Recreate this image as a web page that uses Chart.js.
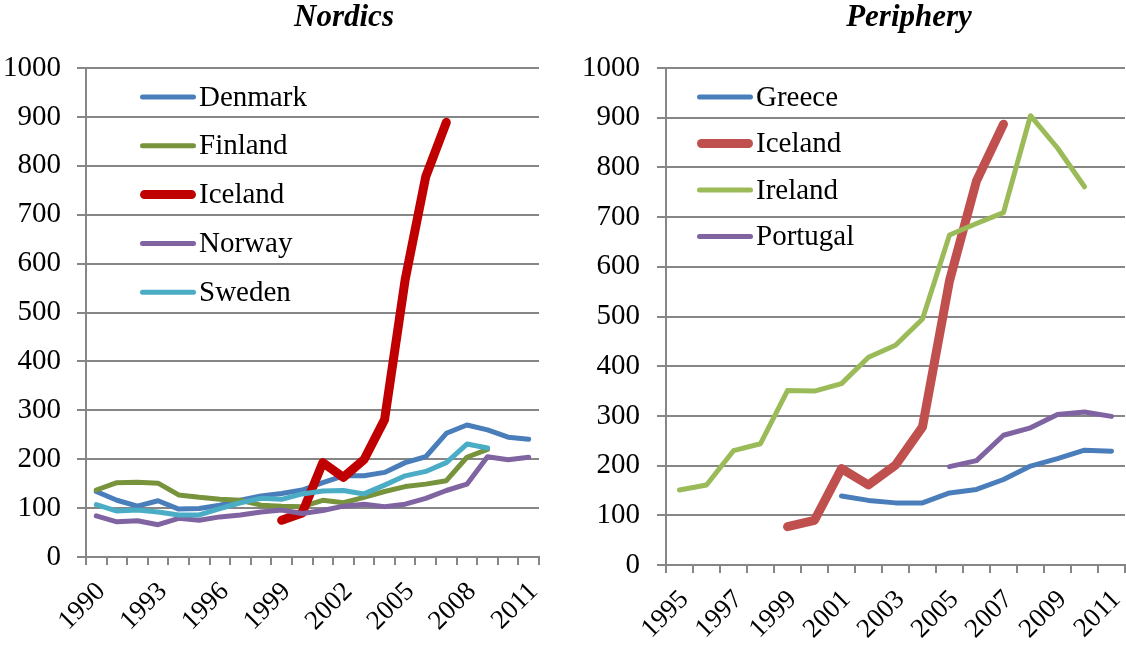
<!DOCTYPE html>
<html>
<head>
<meta charset="utf-8">
<script src="https://cdn.jsdelivr.net/npm/chart.js@4.4.1/dist/chart.umd.min.js"></script>
<style>
  html, body { margin: 0; padding: 0; background: #fff; overflow: hidden; width: 1126px; height: 645px; }
  canvas { position: absolute; top: 0; }
  #c1 { left: 0; }
  #c2 { left: 563px; }
</style>
</head>
<body>
<canvas id="c1" width="563" height="645"></canvas>
<canvas id="c2" width="563" height="645"></canvas>
<script>
// ---------- DATA ----------
const nordicYears = ['1990','1991','1992','1993','1994','1995','1996','1997','1998','1999','2000',
                     '2001','2002','2003','2004','2005','2006','2007','2008','2009','2010','2011'];
const denmark = [134, 116, 104, 115, 98, 99, 106, 116, 125, 130, 137, 152, 166, 166, 173, 193, 205, 253, 270, 260, 245, 241];
const finland = [137, 152, 153, 151, 127, 122, 118, 116, 106, 104, 103, 116, 111, 122, 134, 144, 149, 156, 204, 220, null, null];
const icelandN = [null, null, null, null, null, null, null, null, null, 75, 90, 193, 163, 199, 281, 567, 778, 889, null, null, null, null];
const norway = [84, 72, 74, 66, 79, 75, 82, 86, 92, 96, 89, 95, 104, 108, 103, 108, 120, 136, 149, 205, 199, 204];
const sweden = [107, 94, 96, 92, 86, 86, 99, 111, 120, 118, 129, 135, 136, 129, 147, 166, 175, 193, 231, 223, null, null];

const periYears = ['1995','1996','1997','1998','1999','2000','2001','2002','2003','2004','2005',
                   '2006','2007','2008','2009','2010','2011'];
const greece = [null, null, null, null, null, null, 139, 130, 125, 125, 145, 152, 172, 199, 214, 231, 229];
const icelandP = [null, null, null, null, 77, 90, 194, 161, 201, 278, 572, 773, 887, null, null, null, null];
const ireland = [151, 161, 230, 244, 351, 350, 365, 418, 442, 495, 664, 687, 709, 904, 839, 761, null];
const portugal = [null, null, null, null, null, null, null, null, null, null, 198, 210, 261, 276, 303, 308, 299];

const yTicks = [0, 100, 200, 300, 400, 500, 600, 700, 800, 900, 1000];

// ---------- STYLE ----------
const FONT = '"Liberation Serif", "Times New Roman", serif';
const GRID = '#868686';

function ds(label, data, color, width, order) {
  return { label, data, borderColor: color, backgroundColor: color, borderWidth: width,
           pointRadius: 0, pointHoverRadius: 0, tension: 0, spanGaps: false, fill: false,
           borderCapStyle: 'round', borderJoinStyle: 'round', order };
}

const overlay = {
  id: 'overlay',
  afterDraw(chart, args, o) {
    const ctx = chart.ctx;
    ctx.save();
    ctx.fillStyle = '#000';
    ctx.font = 'bold italic 31px ' + FONT;
    ctx.textAlign = 'center';
    ctx.textBaseline = 'alphabetic';
    ctx.fillText(o.title, o.titleX, o.titleY);
    ctx.font = '29px ' + FONT;
    ctx.textAlign = 'left';
    ctx.textBaseline = 'middle';
    chart.data.datasets.forEach((d, i) => {
      const y = o.legY + i * o.legDy;
      ctx.beginPath();
      ctx.strokeStyle = d.borderColor;
      ctx.lineWidth = d.borderWidth;
      ctx.lineCap = 'round';
      ctx.moveTo(o.legX + d.borderWidth / 2, y);
      ctx.lineTo(o.legX + o.legLen - d.borderWidth / 2, y);
      ctx.stroke();
      ctx.fillText(d.label, o.legX + o.legLen + 3, y + 1);
    });
    ctx.restore();
  }
};

function makeChart(id, labels, datasets, cfg) {
  return new Chart(document.getElementById(id), {
    type: 'line',
    data: { labels, datasets },
    plugins: [overlay],
    options: {
      responsive: false,
      animation: false,
      events: [],
      layout: { padding: { top: 68, right: cfg.padRight, left: 0, bottom: 0 } },
      plugins: {
        legend: { display: false },
        tooltip: { enabled: false },
        overlay: cfg.overlay
      },
      scales: {
        x: {
          offset: true,
          grid: { offset: true, drawOnChartArea: false, drawTicks: true, tickLength: 8, color: GRID, lineWidth: 2 },
          border: { color: GRID, width: 2 },
          ticks: {
            autoSkip: false, maxRotation: 45, minRotation: 45, padding: 11, labelOffset: 5, color: '#000',
            font: { family: FONT, size: 27 },
            callback: (v, i) => (i % cfg.every === 0 ? labels[i] : '')
          },
          afterFit(s) { s.height = cfg.xHeight; s.paddingLeft = 0; s.paddingRight = 0; }
        },
        y: {
          min: yTicks[0], max: yTicks[yTicks.length - 1],
          afterBuildTicks(s) { s.ticks = yTicks.map(v => ({ value: v })); },
          grid: { color: GRID, lineWidth: 2, drawTicks: true, tickLength: 9 },
          border: { color: GRID, width: 2 },
          ticks: { color: '#000', padding: cfg.yPad, font: { family: FONT, size: 29 },
                   callback: (v) => String(v) },
          afterFit(s) { s.width = cfg.yWidth; s.paddingTop = 0; s.paddingBottom = 0; }
        }
      }
    }
  });
}

makeChart('c1', nordicYears, [
  ds('Denmark', denmark, '#4A7EBB', 5, 5),
  ds('Finland', finland, '#77933C', 5, 4),
  ds('Iceland', icelandN, '#C00000', 9, 3),
  ds('Norway', norway, '#8064A2', 5, 2),
  ds('Sweden', sweden, '#4BACC6', 5, 1)
], {
  padRight: 24, xHeight: 88, yWidth: 86, yPad: 16, every: 3,
  overlay: { title: 'Nordics', titleX: 344, titleY: 26, legX: 140, legY: 97, legDy: 48.8, legLen: 56 }
});

makeChart('c2', periYears, [
  ds('Greece', greece, '#4A7EBB', 5, 4),
  ds('Iceland', icelandP, '#C0504D', 9, 3),
  ds('Ireland', ireland, '#9BBB59', 5, 2),
  ds('Portugal', portugal, '#8064A2', 5, 1)
], {
  padRight: 1, xHeight: 80, yWidth: 103, yPad: 17, every: 2,
  overlay: { title: 'Periphery', titleX: 346, titleY: 26, legX: 134, legY: 97, legDy: 46.5, legLen: 56 }
});
</script>
</body>
</html>
